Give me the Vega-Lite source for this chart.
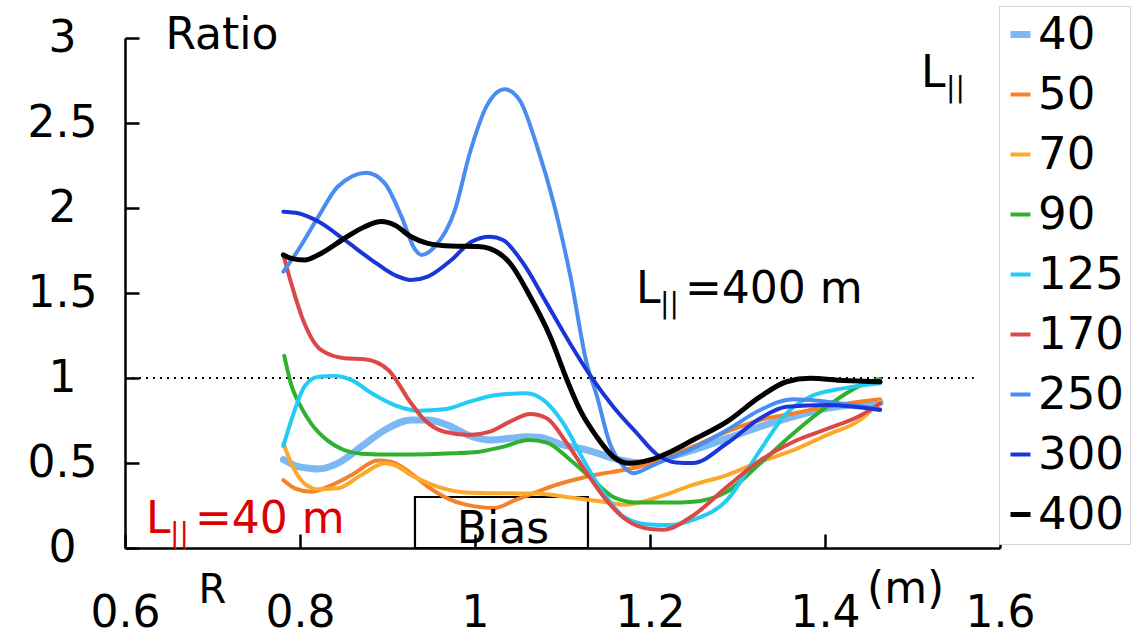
{
  "$schema": "https://vega.github.io/schema/vega-lite/v6.json",
  "width": 875,
  "height": 510,
  "autosize": {"type": "none"},
  "padding": {"left": 125, "top": 38, "right": 140, "bottom": 94},
  "background": "white",
  "config": {
    "view": {"stroke": null},
    "font": "DejaVu Sans",
    "axis": {
      "grid": false,
      "domainColor": "black",
      "domainWidth": 2.5,
      "tickColor": "black",
      "tickWidth": 2.5,
      "labelFont": "DejaVu Sans",
      "labelFontSize": 44,
      "labelColor": "black",
      "titleFont": "DejaVu Sans",
      "titleFontSize": 44,
      "titleFontWeight": "normal",
      "titleColor": "black",
      "labelFlush": false,
      "labelOverlap": false
    },
    "legend": {
      "orient": "none",
      "legendX": 874,
      "legendY": -32,
      "padding": 6,
      "symbolOffset": -7,
      "symbolType": "stroke",
      "symbolSize": 400,
      "symbolStrokeWidth": 4,
      "labelFont": "DejaVu Sans",
      "labelFontSize": 45,
      "labelColor": "black",
      "labelOffset": -5,
      "labelLimit": 0,
      "rowPadding": 14,
      "strokeColor": "#d4d4d4",
      "fillColor": "white"
    }
  },
  "layer": [
    {
      "data": {"values": [
        {"x": 0.6, "x2": 1.57, "y": 1}
      ]},
      "mark": {"type": "rule", "strokeDash": [2, 5], "strokeWidth": 2.2, "color": "black"},
      "encoding": {
        "x": {"field": "x", "type": "quantitative", "scale": {"domain": [0.6, 1.6], "nice": false, "zero": false}},
        "x2": {"field": "x2"},
        "y": {"field": "y", "type": "quantitative", "scale": {"domain": [0, 3], "nice": false}}
      }
    },
    {
      "data": {"values": [
        {"x": 0.9314, "x2": 1.1291, "y": 0, "y2": 0.3}
      ]},
      "mark": {"type": "rect", "fill": null, "fillOpacity": 0, "stroke": "black", "strokeWidth": 2.2},
      "encoding": {
        "x": {"field": "x", "type": "quantitative"},
        "x2": {"field": "x2"},
        "y": {"field": "y", "type": "quantitative"},
        "y2": {"field": "y2"}
      }
    },
    {
      "data": {"values": [
        {"L": "40", "R": 0.781, "ratio": 0.52},
        {"L": "40", "R": 0.798, "ratio": 0.478},
        {"L": "40", "R": 0.811, "ratio": 0.469},
        {"L": "40", "R": 0.821, "ratio": 0.465},
        {"L": "40", "R": 0.843, "ratio": 0.498},
        {"L": "40", "R": 0.87, "ratio": 0.596},
        {"L": "40", "R": 0.897, "ratio": 0.694},
        {"L": "40", "R": 0.927, "ratio": 0.753},
        {"L": "40", "R": 0.946, "ratio": 0.753},
        {"L": "40", "R": 0.97, "ratio": 0.72},
        {"L": "40", "R": 0.994, "ratio": 0.66},
        {"L": "40", "R": 1.017, "ratio": 0.635},
        {"L": "40", "R": 1.04, "ratio": 0.645},
        {"L": "40", "R": 1.06, "ratio": 0.655},
        {"L": "40", "R": 1.075, "ratio": 0.65},
        {"L": "40", "R": 1.101, "ratio": 0.606},
        {"L": "40", "R": 1.128, "ratio": 0.576},
        {"L": "40", "R": 1.166, "ratio": 0.518},
        {"L": "40", "R": 1.19, "ratio": 0.5},
        {"L": "40", "R": 1.211, "ratio": 0.52},
        {"L": "40", "R": 1.249, "ratio": 0.576},
        {"L": "40", "R": 1.288, "ratio": 0.645},
        {"L": "40", "R": 1.326, "ratio": 0.714},
        {"L": "40", "R": 1.364, "ratio": 0.773},
        {"L": "40", "R": 1.402, "ratio": 0.822},
        {"L": "40", "R": 1.463, "ratio": 0.855},

        {"L": "50", "R": 0.781, "ratio": 0.4},
        {"L": "50", "R": 0.794, "ratio": 0.351},
        {"L": "50", "R": 0.813, "ratio": 0.331},
        {"L": "50", "R": 0.832, "ratio": 0.361},
        {"L": "50", "R": 0.859, "ratio": 0.429},
        {"L": "50", "R": 0.889, "ratio": 0.514},
        {"L": "50", "R": 0.904, "ratio": 0.508},
        {"L": "50", "R": 0.927, "ratio": 0.439},
        {"L": "50", "R": 0.946, "ratio": 0.361},
        {"L": "50", "R": 0.973, "ratio": 0.282},
        {"L": "50", "R": 1.0, "ratio": 0.245},
        {"L": "50", "R": 1.022, "ratio": 0.235},
        {"L": "50", "R": 1.045, "ratio": 0.28},
        {"L": "50", "R": 1.068, "ratio": 0.325},
        {"L": "50", "R": 1.095, "ratio": 0.375},
        {"L": "50", "R": 1.124, "ratio": 0.415},
        {"L": "50", "R": 1.154, "ratio": 0.445},
        {"L": "50", "R": 1.185, "ratio": 0.475},
        {"L": "50", "R": 1.211, "ratio": 0.518},
        {"L": "50", "R": 1.249, "ratio": 0.596},
        {"L": "50", "R": 1.288, "ratio": 0.684},
        {"L": "50", "R": 1.326, "ratio": 0.753},
        {"L": "50", "R": 1.364, "ratio": 0.792},
        {"L": "50", "R": 1.402, "ratio": 0.831},
        {"L": "50", "R": 1.463, "ratio": 0.875},

        {"L": "70", "R": 0.781, "ratio": 0.616},
        {"L": "70", "R": 0.79, "ratio": 0.498},
        {"L": "70", "R": 0.805, "ratio": 0.38},
        {"L": "70", "R": 0.821, "ratio": 0.345},
        {"L": "70", "R": 0.843, "ratio": 0.351},
        {"L": "70", "R": 0.87, "ratio": 0.429},
        {"L": "70", "R": 0.897, "ratio": 0.498},
        {"L": "70", "R": 0.908, "ratio": 0.488},
        {"L": "70", "R": 0.927, "ratio": 0.43},
        {"L": "70", "R": 0.958, "ratio": 0.36},
        {"L": "70", "R": 0.994, "ratio": 0.325},
        {"L": "70", "R": 1.032, "ratio": 0.322},
        {"L": "70", "R": 1.071, "ratio": 0.32},
        {"L": "70", "R": 1.109, "ratio": 0.297},
        {"L": "70", "R": 1.147, "ratio": 0.272},
        {"L": "70", "R": 1.17, "ratio": 0.255},
        {"L": "70", "R": 1.192, "ratio": 0.272},
        {"L": "70", "R": 1.211, "ratio": 0.302},
        {"L": "70", "R": 1.249, "ratio": 0.371},
        {"L": "70", "R": 1.288, "ratio": 0.429},
        {"L": "70", "R": 1.326, "ratio": 0.508},
        {"L": "70", "R": 1.364, "ratio": 0.576},
        {"L": "70", "R": 1.402, "ratio": 0.665},
        {"L": "70", "R": 1.44, "ratio": 0.753},
        {"L": "70", "R": 1.463, "ratio": 0.86},

        {"L": "90", "R": 0.782, "ratio": 1.13},
        {"L": "90", "R": 0.79, "ratio": 0.96},
        {"L": "90", "R": 0.8, "ratio": 0.84},
        {"L": "90", "R": 0.813, "ratio": 0.73},
        {"L": "90", "R": 0.832, "ratio": 0.63},
        {"L": "90", "R": 0.851, "ratio": 0.575},
        {"L": "90", "R": 0.87, "ratio": 0.555},
        {"L": "90", "R": 0.908, "ratio": 0.55},
        {"L": "90", "R": 0.946, "ratio": 0.552},
        {"L": "90", "R": 0.975, "ratio": 0.557},
        {"L": "90", "R": 1.003, "ratio": 0.565},
        {"L": "90", "R": 1.032, "ratio": 0.595},
        {"L": "90", "R": 1.061, "ratio": 0.635},
        {"L": "90", "R": 1.082, "ratio": 0.62},
        {"L": "90", "R": 1.109, "ratio": 0.518},
        {"L": "90", "R": 1.135, "ratio": 0.4},
        {"L": "90", "R": 1.158, "ratio": 0.3},
        {"L": "90", "R": 1.185, "ratio": 0.267},
        {"L": "90", "R": 1.223, "ratio": 0.267},
        {"L": "90", "R": 1.249, "ratio": 0.272},
        {"L": "90", "R": 1.288, "ratio": 0.331},
        {"L": "90", "R": 1.326, "ratio": 0.498},
        {"L": "90", "R": 1.364, "ratio": 0.675},
        {"L": "90", "R": 1.402, "ratio": 0.831},
        {"L": "90", "R": 1.44, "ratio": 0.955},
        {"L": "90", "R": 1.463, "ratio": 0.995},

        {"L": "125", "R": 0.781, "ratio": 0.6},
        {"L": "125", "R": 0.794, "ratio": 0.812},
        {"L": "125", "R": 0.805, "ratio": 0.949},
        {"L": "125", "R": 0.821, "ratio": 1.008},
        {"L": "125", "R": 0.84, "ratio": 1.012},
        {"L": "125", "R": 0.859, "ratio": 0.988},
        {"L": "125", "R": 0.882, "ratio": 0.91},
        {"L": "125", "R": 0.908, "ratio": 0.841},
        {"L": "125", "R": 0.935, "ratio": 0.808},
        {"L": "125", "R": 0.965, "ratio": 0.816},
        {"L": "125", "R": 0.994, "ratio": 0.861},
        {"L": "125", "R": 1.025, "ratio": 0.9},
        {"L": "125", "R": 1.059, "ratio": 0.91},
        {"L": "125", "R": 1.078, "ratio": 0.871},
        {"L": "125", "R": 1.101, "ratio": 0.733},
        {"L": "125", "R": 1.124, "ratio": 0.518},
        {"L": "125", "R": 1.147, "ratio": 0.322},
        {"L": "125", "R": 1.17, "ratio": 0.184},
        {"L": "125", "R": 1.196, "ratio": 0.14},
        {"L": "125", "R": 1.223, "ratio": 0.135},
        {"L": "125", "R": 1.249, "ratio": 0.165},
        {"L": "125", "R": 1.288, "ratio": 0.282},
        {"L": "125", "R": 1.326, "ratio": 0.576},
        {"L": "125", "R": 1.356, "ratio": 0.792},
        {"L": "125", "R": 1.383, "ratio": 0.89},
        {"L": "125", "R": 1.421, "ratio": 0.939},
        {"L": "125", "R": 1.463, "ratio": 0.969},

        {"L": "170", "R": 0.781, "ratio": 1.724},
        {"L": "170", "R": 0.79, "ratio": 1.557},
        {"L": "170", "R": 0.805, "ratio": 1.322},
        {"L": "170", "R": 0.824, "ratio": 1.165},
        {"L": "170", "R": 0.851, "ratio": 1.116},
        {"L": "170", "R": 0.874, "ratio": 1.11},
        {"L": "170", "R": 0.901, "ratio": 1.047},
        {"L": "170", "R": 0.927, "ratio": 0.851},
        {"L": "170", "R": 0.9425, "ratio": 0.753},
        {"L": "170", "R": 0.965, "ratio": 0.684},
        {"L": "170", "R": 0.994, "ratio": 0.665},
        {"L": "170", "R": 1.017, "ratio": 0.684},
        {"L": "170", "R": 1.04, "ratio": 0.743},
        {"L": "170", "R": 1.063, "ratio": 0.788},
        {"L": "170", "R": 1.082, "ratio": 0.763},
        {"L": "170", "R": 1.105, "ratio": 0.616},
        {"L": "170", "R": 1.128, "ratio": 0.439},
        {"L": "170", "R": 1.15, "ratio": 0.282},
        {"L": "170", "R": 1.173, "ratio": 0.165},
        {"L": "170", "R": 1.2, "ratio": 0.112},
        {"L": "170", "R": 1.215, "ratio": 0.108},
        {"L": "170", "R": 1.249, "ratio": 0.19},
        {"L": "170", "R": 1.288, "ratio": 0.36},
        {"L": "170", "R": 1.326, "ratio": 0.515},
        {"L": "170", "R": 1.364, "ratio": 0.625},
        {"L": "170", "R": 1.402, "ratio": 0.7},
        {"L": "170", "R": 1.44, "ratio": 0.778},
        {"L": "170", "R": 1.463, "ratio": 0.851},

        {"L": "250", "R": 0.781, "ratio": 1.626},
        {"L": "250", "R": 0.798, "ratio": 1.753},
        {"L": "250", "R": 0.821, "ratio": 1.949},
        {"L": "250", "R": 0.843, "ratio": 2.125},
        {"L": "250", "R": 0.876, "ratio": 2.208},
        {"L": "250", "R": 0.897, "ratio": 2.145},
        {"L": "250", "R": 0.916, "ratio": 1.949},
        {"L": "250", "R": 0.931, "ratio": 1.76},
        {"L": "250", "R": 0.939, "ratio": 1.724},
        {"L": "250", "R": 0.954, "ratio": 1.773},
        {"L": "250", "R": 0.977, "ratio": 1.988},
        {"L": "250", "R": 0.994, "ratio": 2.322},
        {"L": "250", "R": 1.013, "ratio": 2.596},
        {"L": "250", "R": 1.034, "ratio": 2.698},
        {"L": "250", "R": 1.051, "ratio": 2.635},
        {"L": "250", "R": 1.071, "ratio": 2.361},
        {"L": "250", "R": 1.09, "ratio": 2.027},
        {"L": "250", "R": 1.109, "ratio": 1.6},
        {"L": "250", "R": 1.128, "ratio": 1.08},
        {"L": "250", "R": 1.139, "ratio": 0.9},
        {"L": "250", "R": 1.154, "ratio": 0.616},
        {"L": "250", "R": 1.17, "ratio": 0.478},
        {"L": "250", "R": 1.181, "ratio": 0.439},
        {"L": "250", "R": 1.2, "ratio": 0.478},
        {"L": "250", "R": 1.223, "ratio": 0.53},
        {"L": "250", "R": 1.249, "ratio": 0.586},
        {"L": "250", "R": 1.288, "ratio": 0.694},
        {"L": "250", "R": 1.326, "ratio": 0.812},
        {"L": "250", "R": 1.364, "ratio": 0.875},
        {"L": "250", "R": 1.402, "ratio": 0.861},
        {"L": "250", "R": 1.463, "ratio": 0.816},

        {"L": "300", "R": 0.781, "ratio": 1.978},
        {"L": "300", "R": 0.798, "ratio": 1.969},
        {"L": "300", "R": 0.821, "ratio": 1.92},
        {"L": "300", "R": 0.851, "ratio": 1.812},
        {"L": "300", "R": 0.882, "ratio": 1.694},
        {"L": "300", "R": 0.908, "ratio": 1.606},
        {"L": "300", "R": 0.927, "ratio": 1.576},
        {"L": "300", "R": 0.946, "ratio": 1.596},
        {"L": "300", "R": 0.973, "ratio": 1.694},
        {"L": "300", "R": 0.996, "ratio": 1.802},
        {"L": "300", "R": 1.017, "ratio": 1.831},
        {"L": "300", "R": 1.032, "ratio": 1.812},
        {"L": "300", "R": 1.055, "ratio": 1.675},
        {"L": "300", "R": 1.082, "ratio": 1.439},
        {"L": "300", "R": 1.109, "ratio": 1.2},
        {"L": "300", "R": 1.131, "ratio": 1.02},
        {"L": "300", "R": 1.158, "ratio": 0.831},
        {"L": "300", "R": 1.185, "ratio": 0.675},
        {"L": "300", "R": 1.208, "ratio": 0.55},
        {"L": "300", "R": 1.23, "ratio": 0.503},
        {"L": "300", "R": 1.249, "ratio": 0.5},
        {"L": "300", "R": 1.288, "ratio": 0.616},
        {"L": "300", "R": 1.326, "ratio": 0.763},
        {"L": "300", "R": 1.356, "ratio": 0.831},
        {"L": "300", "R": 1.402, "ratio": 0.841},
        {"L": "300", "R": 1.463, "ratio": 0.812},

        {"L": "400", "R": 0.781, "ratio": 1.724},
        {"L": "400", "R": 0.79, "ratio": 1.704},
        {"L": "400", "R": 0.805, "ratio": 1.694},
        {"L": "400", "R": 0.824, "ratio": 1.733},
        {"L": "400", "R": 0.851, "ratio": 1.822},
        {"L": "400", "R": 0.874, "ratio": 1.89},
        {"L": "400", "R": 0.893, "ratio": 1.92},
        {"L": "400", "R": 0.908, "ratio": 1.9},
        {"L": "400", "R": 0.927, "ratio": 1.831},
        {"L": "400", "R": 0.946, "ratio": 1.792},
        {"L": "400", "R": 0.973, "ratio": 1.776},
        {"L": "400", "R": 1.003, "ratio": 1.773},
        {"L": "400", "R": 1.017, "ratio": 1.761},
        {"L": "400", "R": 1.04, "ratio": 1.675},
        {"L": "400", "R": 1.063, "ratio": 1.479},
        {"L": "400", "R": 1.086, "ratio": 1.243},
        {"L": "400", "R": 1.105, "ratio": 0.99},
        {"L": "400", "R": 1.12, "ratio": 0.812},
        {"L": "400", "R": 1.139, "ratio": 0.655},
        {"L": "400", "R": 1.158, "ratio": 0.537},
        {"L": "400", "R": 1.177, "ratio": 0.498},
        {"L": "400", "R": 1.2, "ratio": 0.518},
        {"L": "400", "R": 1.223, "ratio": 0.565},
        {"L": "400", "R": 1.249, "ratio": 0.635},
        {"L": "400", "R": 1.288, "ratio": 0.743},
        {"L": "400", "R": 1.326, "ratio": 0.89},
        {"L": "400", "R": 1.356, "ratio": 0.978},
        {"L": "400", "R": 1.383, "ratio": 0.998},
        {"L": "400", "R": 1.421, "ratio": 0.985},
        {"L": "400", "R": 1.463, "ratio": 0.978}
      ]},
      "mark": {"type": "line", "interpolate": "monotone", "strokeCap": "round", "strokeJoin": "round"},
      "encoding": {
        "x": {
          "field": "R", "type": "quantitative",
          "scale": {"domain": [0.6, 1.6], "nice": false, "zero": false},
          "axis": {
            "values": [0.6, 0.8, 1, 1.2, 1.4, 1.6],
            "format": "~g",
            "tickSize": -14,
            "labelPadding": 79,
            "labelBaseline": "middle",
            "title": "R",
            "titleFontSize": 40,
            "titleX": 87,
            "titleY": 42,
            "titleAlign": "center",
            "titleBaseline": "middle"
          }
        },
        "y": {
          "field": "ratio", "type": "quantitative",
          "scale": {"domain": [0, 3], "nice": false},
          "axis": {
            "values": [0, 0.5, 1, 1.5, 2, 2.5, 3],
            "format": "~g",
            "tickSize": -14,
            "labelPadding": 77,
            "labelAlign": "center",
            "title": "Ratio",
            "titleAngle": 0,
            "titleX": 40,
            "titleY": -3,
            "titleAlign": "left",
            "titleBaseline": "middle"
          }
        },
        "color": {
          "field": "L", "type": "nominal",
          "scale": {
            "domain": ["40", "50", "70", "90", "125", "170", "250", "300", "400"],
            "range": ["#7cb9f4", "#f58228", "#fca82a", "#2fb12f", "#22ccf2", "#dc4848", "#4a8cf0", "#1a36d8", "#000000"]
          },
          "legend": {"title": null}
        },
        "strokeWidth": {
          "field": "L", "type": "nominal",
          "scale": {
            "type": "ordinal",
            "domain": ["40", "50", "70", "90", "125", "170", "250", "300", "400"],
            "range": [7, 4, 4, 4, 4, 4, 4, 4, 5]
          },
          "legend": null
        }
      }
    },
    {
      "data": {"values": [
        {"R": 1.5097, "ratio": 2.712, "t": "L"},
        {"R": 1.184, "ratio": 1.441, "t": "L"},
        {"R": 1.24, "ratio": 1.441, "t": "=400 m"},
        {"R": 1.448, "ratio": -0.324, "t": "(m)"}
      ]},
      "mark": {"type": "text", "align": "left", "baseline": "alphabetic", "fontSize": 44, "font": "DejaVu Sans", "color": "black"},
      "encoding": {
        "x": {"field": "R", "type": "quantitative"},
        "y": {"field": "ratio", "type": "quantitative"},
        "text": {"field": "t"}
      }
    },
    {
      "data": {"values": [
        {"R": 1.5383, "ratio": 2.653, "t": "||"},
        {"R": 1.2114, "ratio": 1.382, "t": "||"}
      ]},
      "mark": {"type": "text", "align": "left", "baseline": "alphabetic", "fontSize": 28, "font": "DejaVu Sans", "color": "black"},
      "encoding": {
        "x": {"field": "R", "type": "quantitative"},
        "y": {"field": "ratio", "type": "quantitative"},
        "text": {"field": "t"}
      }
    },
    {
      "data": {"values": [
        {"R": 0.624, "ratio": 0.088, "t": "L"},
        {"R": 0.68, "ratio": 0.088, "t": "=40 m"}
      ]},
      "mark": {"type": "text", "align": "left", "baseline": "alphabetic", "fontSize": 44, "font": "DejaVu Sans", "color": "#dd0000"},
      "encoding": {
        "x": {"field": "R", "type": "quantitative"},
        "y": {"field": "ratio", "type": "quantitative"},
        "text": {"field": "t"}
      }
    },
    {
      "data": {"values": [
        {"R": 0.6514, "ratio": 0.029, "t": "||"}
      ]},
      "mark": {"type": "text", "align": "left", "baseline": "alphabetic", "fontSize": 28, "font": "DejaVu Sans", "color": "#dd0000"},
      "encoding": {
        "x": {"field": "R", "type": "quantitative"},
        "y": {"field": "ratio", "type": "quantitative"},
        "text": {"field": "t"}
      }
    },
    {
      "data": {"values": [
        {"R": 1.032, "ratio": 0.029, "t": "Bias"}
      ]},
      "mark": {"type": "text", "align": "center", "baseline": "alphabetic", "fontSize": 44, "font": "DejaVu Sans", "color": "black"},
      "encoding": {
        "x": {"field": "R", "type": "quantitative"},
        "y": {"field": "ratio", "type": "quantitative"},
        "text": {"field": "t"}
      }
    }
  ]
}
